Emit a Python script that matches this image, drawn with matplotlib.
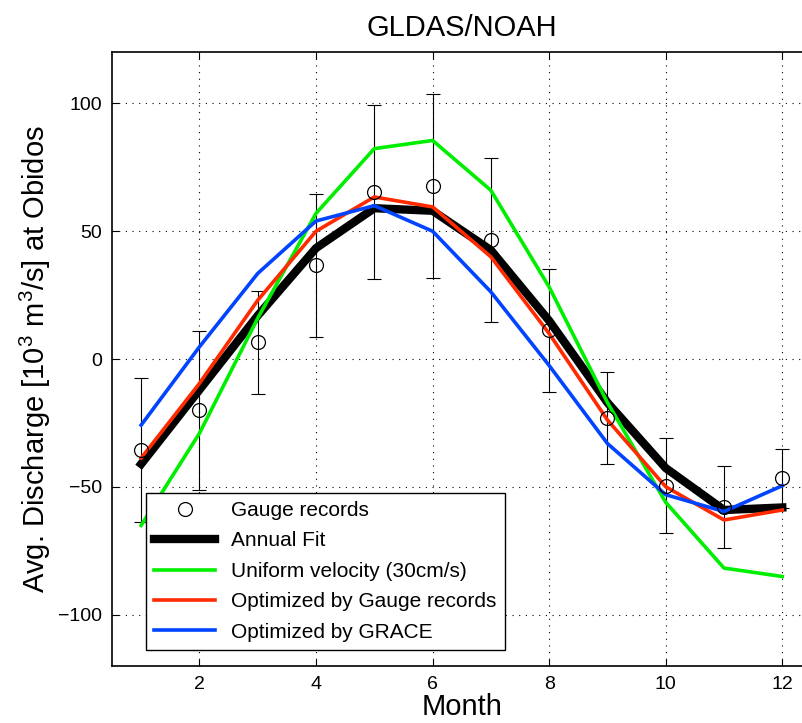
import numpy as np
import matplotlib
matplotlib.use("Agg")
import matplotlib.pyplot as plt

plt.rcParams['font.family'] = ['Liberation Sans', 'DejaVu Sans']
plt.rcParams['mathtext.fontset'] = 'custom'
plt.rcParams['mathtext.rm'] = 'Liberation Sans'

# monthly values, 10^3 m^3/s
months = np.arange(1, 13)
gauge = [-35.5, -20, 6.5, 36.7, 65.4, 67.7, 46.5, 11.3, -23.2, -49.5, -57.7, -46.6]
gauge_err = [28, 31, 20, 28, 34, 36, 32, 24, 18, 18.5, 16, 11.5]
annual_fit = [-41, -12, 17, 43.4, 59, 58, 42.6, 15, -17, -42.6, -59, -58]
uniform_vel = [-65, -29, 16, 57, 82.3, 85.5, 66, 28.2, -17, -56, -81.7, -85]
opt_gauge = [-38.7, -9.5, 23, 50, 63.4, 59.5, 40, 10, -23.8, -49.9, -62.9, -59]
opt_grace = [-25.8, 4.8, 33.5, 54, 60, 50, 26.3, -2.5, -33, -53, -59.6, -49.5]

fig = plt.figure(figsize=(8.03, 7.23), dpi=100)
ax = fig.add_axes([0.1395, 0.0788, 0.871, 0.849])

ax.errorbar(months, gauge, yerr=gauge_err, fmt='none', ecolor='black',
            elinewidth=0.8, capsize=5, capthick=0.8, zorder=2)
ax.plot(months, gauge, 'o', mfc='none', mec='black', ms=10, mew=0.9,
        label='Gauge records', zorder=6)
ax.plot(months, annual_fit, color='black', lw=6, label='Annual Fit', zorder=3)
ax.plot(months, uniform_vel, color='#00ee00', lw=2.6,
        label='Uniform velocity (30cm/s)', zorder=4)
ax.plot(months, opt_gauge, color='#ff2a00', lw=2.6,
        label='Optimized by Gauge records', zorder=4)
ax.plot(months, opt_grace, color='#0044ff', lw=2.6,
        label='Optimized by GRACE', zorder=4)

ax.set_xlim(0.5, 12.5)
ax.set_ylim(-120, 120)
ax.set_xticks([2, 4, 6, 8, 10, 12])
ax.set_yticks([-100, -50, 0, 50, 100])
ax.set_yticklabels(['\u2212100', '\u221250', '0', '50', '100'])
ax.tick_params(direction='in', top=True, right=True, labelsize=14, length=5, pad=7)
ax.grid(True, linestyle=(0, (1, 5)), color='black', linewidth=0.8)
for s in ax.spines.values():
    s.set_linewidth(1.2)

ax.set_title('GLDAS/NOAH', fontsize=21, pad=12)
ax.set_xlabel('Month', fontsize=21, labelpad=0)
ax.set_ylabel('Avg. Discharge [10$^3$ m$^3$/s] at Obidos', fontsize=21, labelpad=4)

leg = ax.legend(loc='lower left', bbox_to_anchor=(0.0486, 0.026), borderaxespad=0,
                fontsize=15, handlelength=2.9, labelspacing=0.55, fancybox=False,
                edgecolor='black', framealpha=1)
leg.get_frame().set_linewidth(1.0)

fig.savefig('out.png', dpi=100)
